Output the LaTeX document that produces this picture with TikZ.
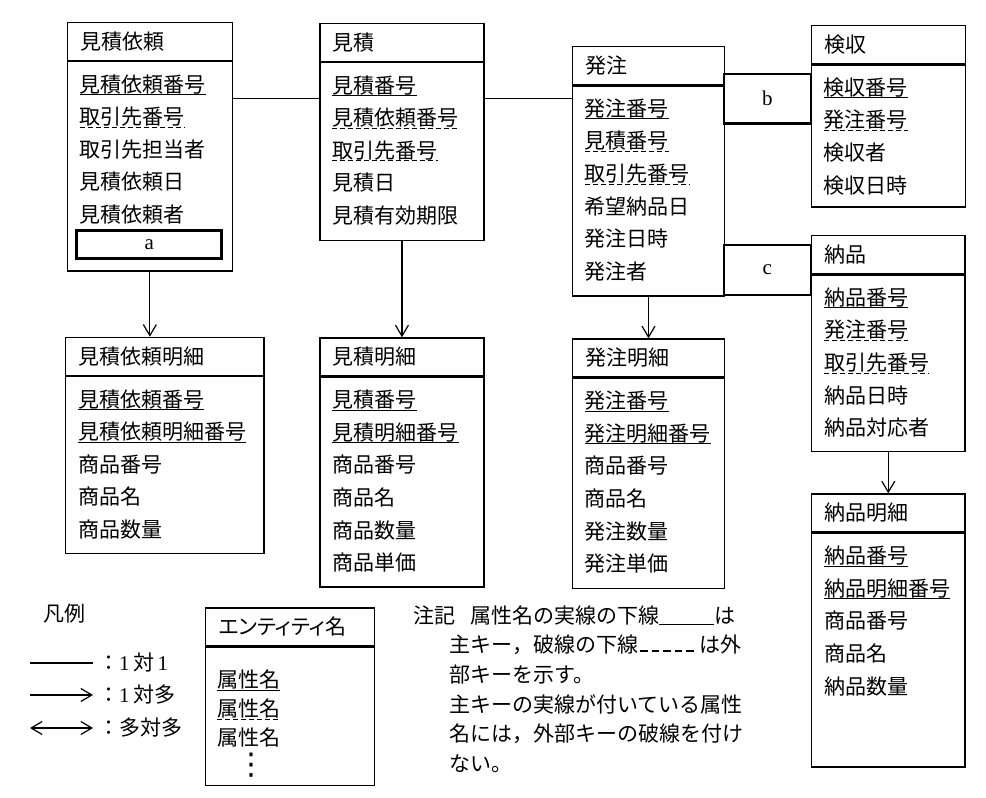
\documentclass[tikz,border=0pt]{standalone}
\usepackage{fontspec}
\setmainfont{Noto Sans CJK JP}
\newfontfamily\lat{Liberation Serif}
\newfontfamily\dejavu{DejaVu Sans}
\usetikzlibrary{arrows.meta,calc}
\newcommand{\pkbar}{\rule[-2pt]{55pt}{1.3pt}}
\newcommand{\fkbar}{\hbox to 57pt{\xleaders\hbox to 11.4pt{\hss\rule[1pt]{7.5pt}{1.6pt}\hss}\hfill}}

\begin{document}
\begin{tikzpicture}[x=1pt, y=-1pt,
    font=\fontsize{21}{25}\selectfont,
    box/.style={rectangle, draw, line width=1.3pt, anchor=north west, inner sep=0pt},
    ttl/.style={box, inner xsep=13pt, text width=#1, align=left, minimum height=38pt},
    bdy/.style={box},
    attr/.style={anchor=base west, inner sep=0pt},
    pk/.style={draw, line width=1pt},
    fk/.style={draw, line width=1pt, dash pattern=on 5pt off 3pt},
    nk/.style={},
    keybox/.style={rectangle, draw, line width=2.5pt, inner sep=0pt, font=\fontsize{21}{25}\lat},
    rel/.style={line width=1.2pt},
    onemany/.style={rel, -{Straight Barb[length=11pt, width=13pt]}},
    manymany/.style={rel, {Straight Barb[length=11pt, width=13pt]}-{Straight Barb[length=11pt, width=13pt]}}]
    \useasboundingbox (0,0) rectangle (986,798);

    % 見積依頼
    \node[ttl=139pt] (mirT) at (66.7,21.7) {見積依頼};
    \node[bdy, minimum width=165pt, minimum height=209.3pt] (mirB) at (mirT.south west) {};
    \foreach \txt/\kind [count=\i] in {見積依頼番号/pk, 取引先番号/fk, 取引先担当者/nk, 見積依頼日/nk, 見積依頼者/nk}{
        \node[attr] (mir\i) at ($(mirB.north west)+(13,{31+(\i-1)*32.6})$) {\txt};
        \path[\kind] ([yshift=-2.5pt]mir\i.base west) -- ([yshift=-2.5pt]mir\i.base east);
    }
    \node[keybox, minimum width=145pt, minimum height=27.6pt] (a) at (149.2,244.5) {a};

    % 見積
    \node[ttl=138pt] (mitT) at (319.3,22.7) {見積};
    \node[bdy, minimum width=164pt, minimum height=177.6pt] (mitB) at (mitT.south west) {};
    \foreach \txt/\kind [count=\i] in {見積番号/pk, 見積依頼番号/fk, 取引先番号/fk, 見積日/nk, 見積有効期限/nk}{
        \node[attr] (mit\i) at ($(mitB.north west)+(13,{31+(\i-1)*32.6})$) {\txt};
        \path[\kind] ([yshift=-2.5pt]mit\i.base west) -- ([yshift=-2.5pt]mit\i.base east);
    }

    % 発注
    \node[ttl=126.3pt] (hatT) at (571.7,46) {発注};
    \node[bdy, minimum width=152.3pt, minimum height=210pt] (hatB) at (hatT.south west) {};
    \foreach \txt/\kind [count=\i] in {発注番号/pk, 見積番号/fk, 取引先番号/fk, 希望納品日/nk, 発注日時/nk, 発注者/nk}{
        \node[attr] (hat\i) at ($(hatB.north west)+(13,{31+(\i-1)*32.6})$) {\txt};
        \path[\kind] ([yshift=-2.5pt]hat\i.base west) -- ([yshift=-2.5pt]hat\i.base east);
    }

    % 検収
    \node[ttl=128.3pt] (kenT) at (810.7,25) {検収};
    \node[bdy, minimum width=154.3pt, minimum height=142pt] (kenB) at (kenT.south west) {};
    \foreach \txt/\kind [count=\i] in {検収番号/pk, 発注番号/fk, 検収者/nk, 検収日時/nk}{
        \node[attr] (ken\i) at ($(kenB.north west)+(13,{31+(\i-1)*32.6})$) {\txt};
        \path[\kind] ([yshift=-2.5pt]ken\i.base west) -- ([yshift=-2.5pt]ken\i.base east);
    }

    % 納品
    \node[ttl=127.3pt] (nouT) at (811,235) {納品};
    \node[bdy, minimum width=153.3pt, minimum height=176.3pt] (nouB) at (nouT.south west) {};
    \foreach \txt/\kind [count=\i] in {納品番号/pk, 発注番号/fk, 取引先番号/fk, 納品日時/nk, 納品対応者/nk}{
        \node[attr] (nou\i) at ($(nouB.north west)+(13,{31+(\i-1)*32.6})$) {\txt};
        \path[\kind] ([yshift=-2.5pt]nou\i.base west) -- ([yshift=-2.5pt]nou\i.base east);
    }

    % 見積依頼明細
    \node[ttl=172.3pt] (mirdT) at (65,336.7) {見積依頼明細};
    \node[bdy, minimum width=198.3pt, minimum height=177pt] (mirdB) at (mirdT.south west) {};
    \foreach \txt/\kind [count=\i] in {見積依頼番号/pk, 見積依頼明細番号/pk, 商品番号/nk, 商品名/nk, 商品数量/nk}{
        \node[attr] (mird\i) at ($(mirdB.north west)+(13,{31+(\i-1)*32.6})$) {\txt};
        \path[\kind] ([yshift=-2.5pt]mird\i.base west) -- ([yshift=-2.5pt]mird\i.base east);
    }

    % 見積明細
    \node[ttl=138pt] (mitdT) at (319.3,337.3) {見積明細};
    \node[bdy, minimum width=164pt, minimum height=209.7pt] (mitdB) at (mitdT.south west) {};
    \foreach \txt/\kind [count=\i] in {見積番号/pk, 見積明細番号/pk, 商品番号/nk, 商品名/nk, 商品数量/nk, 商品単価/nk}{
        \node[attr] (mitd\i) at ($(mitdB.north west)+(13,{31+(\i-1)*32.6})$) {\txt};
        \path[\kind] ([yshift=-2.5pt]mitd\i.base west) -- ([yshift=-2.5pt]mitd\i.base east);
    }

    % 発注明細
    \node[ttl=126.3pt] (hatdT) at (571.7,338.3) {発注明細};
    \node[bdy, minimum width=152.3pt, minimum height=210.4pt] (hatdB) at (hatdT.south west) {};
    \foreach \txt/\kind [count=\i] in {発注番号/pk, 発注明細番号/pk, 商品番号/nk, 商品名/nk, 発注数量/nk, 発注単価/nk}{
        \node[attr] (hatd\i) at ($(hatdB.north west)+(13,{31+(\i-1)*32.6})$) {\txt};
        \path[\kind] ([yshift=-2.5pt]hatd\i.base west) -- ([yshift=-2.5pt]hatd\i.base east);
    }

    % 納品明細
    \node[ttl=127.3pt] (noudT) at (811,493.3) {納品明細};
    \node[bdy, minimum width=153.3pt, minimum height=233.7pt] (noudB) at (noudT.south west) {};
    \foreach \txt/\kind [count=\i] in {納品番号/pk, 納品明細番号/pk, 商品番号/nk, 商品名/nk, 納品数量/nk}{
        \node[attr] (noud\i) at ($(noudB.north west)+(13,{31+(\i-1)*32.6})$) {\txt};
        \path[\kind] ([yshift=-2.5pt]noud\i.base west) -- ([yshift=-2.5pt]noud\i.base east);
    }

    % b, c
    \node[keybox, minimum width=86.7pt, minimum height=49.3pt] (b) at (767.4,98.7) {b};
    \node[keybox, minimum width=86.7pt, minimum height=50pt] (c) at (767.4,270) {c};

    % relations
    \draw[rel] ([yshift=-37.8pt]mirB.north east) -- ([yshift=-36.8pt]mitB.north west);
    \draw[rel] ([yshift=-36.8pt]mitB.north east) -- ([yshift=-13.5pt]hatB.north west);
    \draw[onemany] (mirB.south) -- (mirB.south |- mirdT.north);
    \draw[onemany] (mitB.south) -- (mitdT.north);
    \draw[onemany] (hatB.south) -- (hatdT.north);
    \draw[onemany] (nouB.south) -- (noudT.north);

    % 凡例
    \node[attr] (lgd) at (43,621) {凡例};
    \coordinate (e1) at (30,663);
    \coordinate (e2) at (30,695);
    \coordinate (e3) at (30,728);
    \node[anchor=west, inner sep=0pt] (l1) at (93,663) {\hspace{5pt}：{\lat 1}\,対\,{\lat 1}};
    \node[anchor=west, inner sep=0pt] (l2) at (93,695) {\hspace{5pt}：{\lat 1}\,対多};
    \node[anchor=west, inner sep=0pt] (l3) at (93,728) {\hspace{5pt}：多対多};
    \draw[rel] (e1) -- (l1.west);
    \draw[onemany] (e2) -- (l2.west);
    \draw[manymany] (e3) -- (l3.west);

    \node[ttl=143pt] (legT) at (205,607.3) {\addfontfeature{RawFeature=+palt}エンティティ名};
    \node[bdy, minimum width=169pt, minimum height=138pt] (legB) at (legT.south west) {};
    \foreach \kind [count=\i] in {pk, fk, nk}{
        \node[attr] (leg\i) at ($(legB.north west)+(12,{41+(\i-1)*29})$) {属性名};
        \path[\kind] ([yshift=-2.5pt]leg\i.base west) -- ([yshift=-2.5pt]leg\i.base east);
    }
    \node[inner sep=0pt] (legd) at (251.7,765) {\fontsize{30}{30}\dejavu ⋮};

    % 注記
    \node[attr] (note0) at (413,623) {注記};
    \node[attr] (note1) at (470,623) {属性名の実線の下線\pkbar は};
    \foreach \txt [count=\i from 2] in {主キー，破線の下線\fkbar\,は外, 部キーを示す。, 主キーの実線が付いている属性, 名には，外部キーの破線を付け, ない。}
        \node[attr] (note\i) at (449.3,{623+(\i-1)*29.7}) {\txt};
\end{tikzpicture}
\end{document}
